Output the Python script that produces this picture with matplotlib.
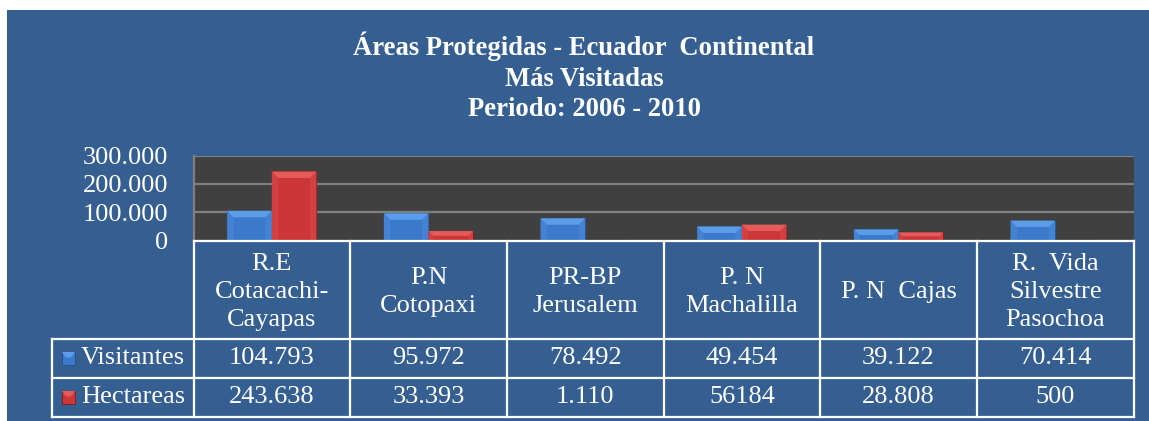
import matplotlib
matplotlib.use("Agg")
import matplotlib.pyplot as plt
from matplotlib.patches import Rectangle, Polygon

# ---- data ----
categories = ["R.E\nCotacachi-\nCayapas", "P.N\nCotopaxi", "PR-BP\nJerusalem",
              "P. N\nMachalilla", "P. N  Cajas", "R.  Vida\nSilvestre\nPasochoa"]
series_names = ["Visitantes", "Hectareas"]
visitantes = [104793, 95972, 78492, 49454, 39122, 70414]
hectareas = [243638, 33393, 1110, 56184, 28808, 500]
visitantes_lbl = ["104.793", "95.972", "78.492", "49.454", "39.122", "70.414"]
hectareas_lbl = ["243.638", "33.393", "1.110", "56184", "28.808", "500"]
ytick_vals = [0, 100000, 200000, 300000]
ytick_lbls = ["0", "100.000", "200.000", "300.000"]
title = "Áreas Protegidas - Ecuador  Continental\nMás Visitadas\nPeriodo: 2006 - 2010"

W, H = 1149, 421
BG = "#365f91"
PLOT_BG = "#404040"
FONT = "Liberation Serif"
FS = 19

def fx(px): return px / W
def fy(py): return 1 - py / H

fig = plt.figure(figsize=(W / 100, H / 100), dpi=100)
fig.patch.set_facecolor("white")
fig.patches.append(Rectangle((fx(7), 0), 1 - fx(7), fy(10), transform=fig.transFigure,
                             facecolor=BG, edgecolor="none", zorder=-10))

fig.text(fx(584), fy(77), title, ha="center", va="center", color="white",
         fontsize=19.2, fontweight="bold", family=FONT, linespacing=1.3)

# ---- bar axes ----
L, R, T, B = 193.5, 1133.5, 155.5, 240.5
ax = fig.add_axes([fx(L), fy(B), fx(R) - fx(L), fy(T) - fy(B)])
ax.set_facecolor(PLOT_BG)
ax.set_xlim(-0.5, len(categories) - 0.5)
ax.set_ylim(0, 300000)
ax.set_yticks(ytick_vals)
ax.set_yticklabels(ytick_lbls, color="white", fontsize=FS, family=FONT)
ax.tick_params(axis="y", length=0, pad=18)
ax.set_xticks([])
ax.yaxis.grid(True, color="#808080", lw=1.6)
ax.set_axisbelow(True)
for s in ["top", "right", "bottom"]:
    ax.spines[s].set_visible(False)
ax.spines["left"].set_color("#808080")
ax.spines["left"].set_linewidth(1.6)

bw = 0.285
styles = [
    dict(main="#3b7acb", top="#5b9de8", side="#4383d2", edge="#24508a"),
    dict(main="#cc3636", top="#e55a5a", side="#d24040", edge="#7e1c1c"),
]
px_per_x = (R - L) / len(categories)
px_per_y = (B - T) / 300000
for si, vals in enumerate([visitantes, hectareas]):
    st = styles[si]
    xs = [i + (si - 0.5) * bw for i in range(len(vals))]
    bars = ax.bar(xs, vals, width=bw, color=st["main"], edgecolor=st["edge"],
                  linewidth=0.8, zorder=3)
    for b in bars:
        x0, w, h = b.get_x(), b.get_width(), b.get_height()
        x1 = x0 + w
        dpx = min(6.5, h * px_per_y / 2)
        d = dpx / px_per_y
        ins = dpx / px_per_x
        ax.add_patch(Polygon([(x0, 0), (x0, h), (x0 + ins, h - d), (x0 + ins, 0)],
                             closed=True, facecolor=st["side"], edgecolor="none", zorder=4))
        ax.add_patch(Polygon([(x1, 0), (x1, h), (x1 - ins, h - d), (x1 - ins, 0)],
                             closed=True, facecolor=st["side"], edgecolor="none", zorder=4))
        ax.add_patch(Polygon([(x0, h), (x1, h), (x1 - ins, h - d), (x0 + ins, h - d)],
                             closed=True, facecolor=st["top"], edgecolor="none", zorder=4))

# ---- data table ----
TL, TT, TB = 52, 241, 417
row_y = [241, 339, 378, 417]
tax = fig.add_axes([fx(TL), fy(TB), fx(R) - fx(TL), fy(TT) - fy(TB)])
xl = -0.5 - (L - TL) / px_per_x
tax.set_xlim(xl, len(categories) - 0.5)
tax.set_ylim(TB, TT)
tax.axis("off")
lc, lw = "white", 1.6
n = len(categories)
tax.plot([-0.5, n - 0.5], [row_y[0]] * 2, color=lc, lw=lw, clip_on=False)
for yy in row_y[1:]:
    tax.plot([xl, n - 0.5], [yy] * 2, color=lc, lw=lw, clip_on=False)
for i in range(n + 1):
    tax.plot([i - 0.5] * 2, [row_y[0], row_y[-1]], color=lc, lw=lw, clip_on=False)
tax.plot([xl] * 2, [row_y[1], row_y[-1]], color=lc, lw=lw, clip_on=False)

for i, c in enumerate(categories):
    tax.text(i, (row_y[0] + row_y[1]) / 2 + 2, c, ha="center", va="center", color="white",
             fontsize=FS, family=FONT, linespacing=1.37)
for r, lbls in enumerate([visitantes_lbl, hectareas_lbl]):
    yc = (row_y[r + 1] + row_y[r + 2]) / 2
    for i, t in enumerate(lbls):
        tax.text(i, yc, t, ha="center", va="center", color="white", fontsize=FS, family=FONT)
    # legend key + series name
    st = styles[r]
    kx0 = xl + (62 - TL) / px_per_x
    kw = 13 / px_per_x
    tax.add_patch(Rectangle((kx0, yc - 6.5), kw, 13, facecolor=st["main"],
                            edgecolor=st["edge"], lw=0.6, clip_on=False))
    tax.add_patch(Polygon([(kx0, yc - 6.5), (kx0 + kw, yc - 6.5), (kx0 + kw * 0.7, yc - 1),
                           (kx0 + kw * 0.3, yc - 1)], closed=True, facecolor=st["top"],
                          edgecolor="none", clip_on=False))
    tax.text(xl + (81 - TL) / px_per_x, yc, series_names[r], ha="left", va="center",
             color="white", fontsize=FS, family=FONT)

fig.savefig("out.png", dpi=100, facecolor=fig.get_facecolor())
